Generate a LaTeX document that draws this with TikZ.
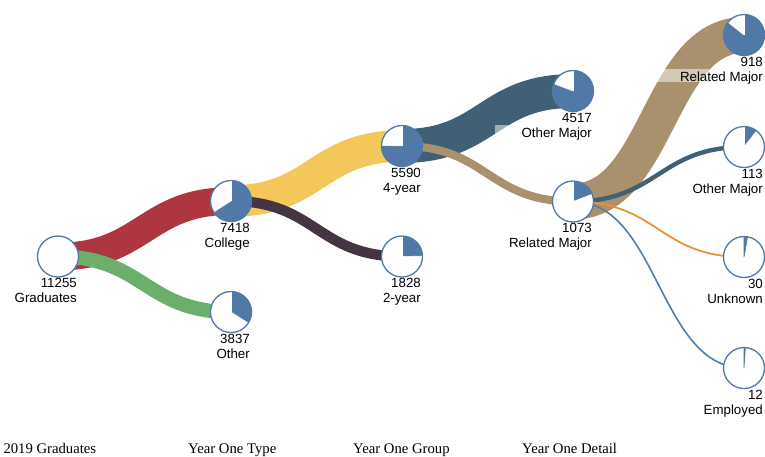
\documentclass[tikz,border=0pt]{standalone}
\usepackage{fontspec}
\setmainfont{Liberation Serif}
\newfontfamily\lsans{Liberation Sans}
\usetikzlibrary{calc,backgrounds}
\definecolor{pieblue}{RGB}{80,121,167}
\definecolor{lred}{RGB}{173,54,64}
\definecolor{lgreen}{RGB}{108,175,108}
\definecolor{lyellow}{RGB}{243,199,91}
\definecolor{lpurple}{RGB}{69,52,66}
\definecolor{lteal}{RGB}{63,96,117}
\definecolor{ltan}{RGB}{168,145,108}
\definecolor{lorange}{RGB}{232,145,62}
\definecolor{lblue}{RGB}{82,124,170}
\newcommand\piefill[2]{%
  \fill[pieblue] (#1.center) -- ++(0,-20.5) arc[start angle=-90, delta angle={360*#2}, radius=20.5] -- cycle;}
\newcommand\piering[1]{%
  \draw[pieblue, line width=1.3pt] (#1.center) circle[radius=20.5];}
\newcommand\piesec[2]{%
  \piefill{#1}{#2}
  \draw[white, line width=0.5pt] (#1.center) -- ++(0,-20.5);
  \draw[white, line width=0.5pt] (#1.center) -- ++({-90+360*#2}:20.5);
  \piering{#1}}
\newcommand\piethin[2]{%
  \draw[pieblue, line width=0.6pt, fill=pieblue] (#1.center) -- ++(0,-20.5) arc[start angle=-90, delta angle={360*#2}, radius=20.5] -- cycle;
  \piering{#1}}
\newcommand\nlabel[3]{%
  \node[numlbl] (#1n) at ($(#1.center)+(19,31)$) {#2};
  \node[numlbl] (#1t) at ($(#1.center)+(19,46)$) {#3};}
\begin{document}
\begin{tikzpicture}[x=1pt,y=-1pt,
  pienode/.style={circle, fill=white, minimum size=41pt, inner sep=0pt},
  lnk/.style={line width=#1, line cap=butt},
  numlbl/.style={anchor=base east, inner sep=0pt, font=\lsans\fontsize{13.3}{15}\selectfont},
  axislbl/.style={anchor=base west, inner sep=0pt, font=\fontsize{14.7}{17}\selectfont},
  lblbg/.style={fill=white, fill opacity=0.5}]
\useasboundingbox (0,0) rectangle (765,456);
% nodes
\node[pienode] (g) at (58,256.5) {};
\node[pienode] (c) at (231,201) {};
\node[pienode] (o) at (231,312) {};
\node[pienode] (fy) at (402,146) {};
\node[pienode] (ty) at (402,256.5) {};
\node[pienode] (om) at (573,91) {};
\node[pienode] (rm) at (573,201.5) {};
\node[pienode] (rr) at (744,35) {};
\node[pienode] (oo) at (744,147) {};
\node[pienode] (un) at (744,257) {};
\node[pienode] (em) at (744,368) {};
% links
\begin{scope}[on background layer]
\draw[lnk=27.7, lred] (g.center) .. controls +(85.5,0) and +(-85.5,0) .. (c.center);
\draw[lnk=14.3, lgreen] (g.center) .. controls +(85.5,0) and +(-85.5,0) .. (o.center);
\draw[lnk=31.6, lyellow] (c.center) .. controls +(85.5,0) and +(-85.5,0) .. (fy.center);
\draw[lnk=10.3, lpurple] (c.center) .. controls +(85.5,0) and +(-85.5,0) .. (ty.center);
\draw[lnk=33.9, lteal] (fy.center) .. controls +(85.5,0) and +(-85.5,0) .. (om.center);
\draw[lnk=8.1, ltan] (fy.center) .. controls +(85.5,0) and +(-85.5,0) .. (rm.center);
\draw[lnk=35.9, ltan] (rm.center) .. controls +(85.5,0) and +(-85.5,0) .. (rr.center);
\draw[lnk=4.4, lteal] (rm.center) .. controls +(85.5,0) and +(-85.5,0) .. (oo.center);
\draw[lnk=1.8, lorange] (rm.center) .. controls +(85.5,0) and +(-85.5,0) .. (un.center);
\draw[lnk=1.6, lblue] (rm.center) .. controls +(85.5,0) and +(-85.5,0) .. (em.center);
\end{scope}
% pies
\piering{g}
\piesec{c}{0.659}
\piesec{o}{0.341}
\piesec{fy}{0.754}
\piesec{ty}{0.246}
\piesec{om}{0.808}
\piesec{rm}{0.192}
\piesec{rr}{0.856}
\piesec{oo}{0.105}
\piethin{un}{0.028}
\piethin{em}{0.011}
% labels
\nlabel{g}{11255}{Graduates}
\nlabel{c}{7418}{College}
\nlabel{o}{3837}{Other}
\nlabel{fy}{5590}{4-year}
\nlabel{ty}{1828}{2-year}
\nlabel{om}{4517}{Other Major}
\nlabel{rm}{1073}{Related Major}
\nlabel{rr}{918}{Related Major}
\nlabel{oo}{113}{Other Major}
\nlabel{un}{30}{Unknown}
\nlabel{em}{12}{Employed}
\begin{scope}[on background layer]
\fill[lblbg] ($(omt.base west)+(-26,-12)$) rectangle ($(omt.base east)+(0,1)$);
\fill[lblbg] ($(rrt.base west)+(-26,-12)$) rectangle ($(rrt.base east)+(0,1)$);
\end{scope}
% axis labels
\node[axislbl] (a1) at (3.3,453) {2019 Graduates};
\node[axislbl] (a2) at (188,453) {Year One Type};
\node[axislbl] (a3) at (353,453) {Year One Group};
\node[axislbl] (a4) at (522,453) {Year One Detail};
\end{tikzpicture}
\end{document}
